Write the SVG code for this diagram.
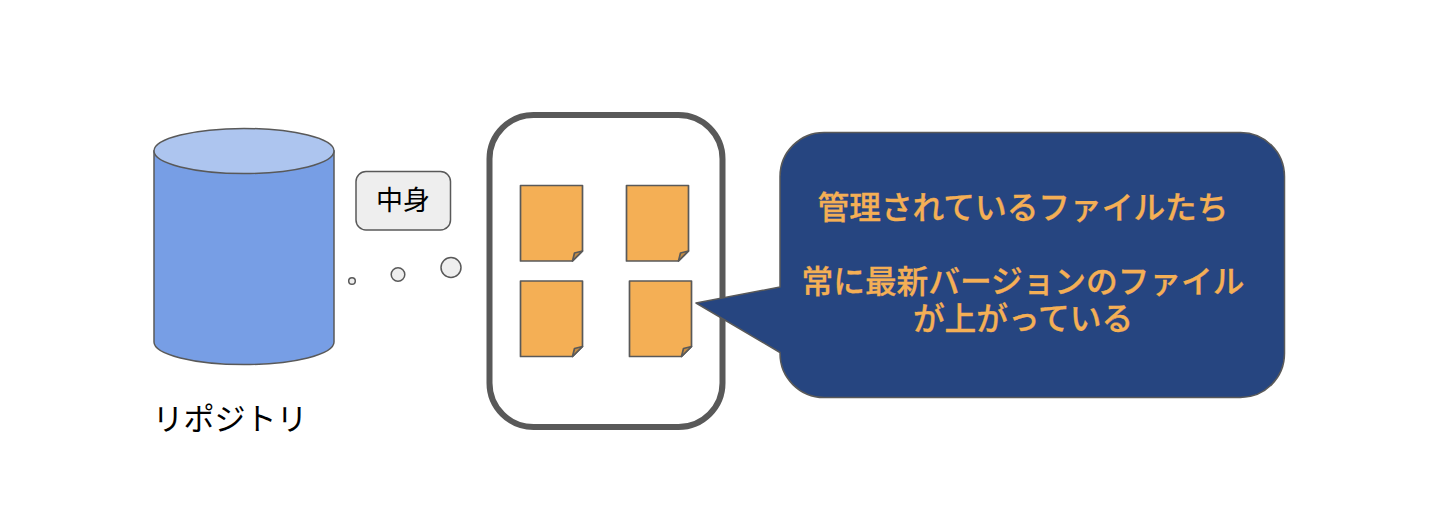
<svg xmlns="http://www.w3.org/2000/svg" width="1436" height="520" viewBox="0 0 1436 520">
<style>
.t{font-family:"Noto Sans CJK JP","Liberation Sans",sans-serif}
.b{font-size:31.700px;font-weight:500;fill:#f4af55;text-anchor:middle;stroke:#f4af55;stroke-width:0.300px}
.doc{fill:#f4af55;stroke:#595959;stroke-width:1.700;stroke-linejoin:round}
.fold{fill:#c48c44;stroke:#595959;stroke-width:1.700;stroke-linejoin:round}
.bub{fill:#eeeeee;stroke:#595959;stroke-width:1.500}
</style>
<defs>
<g id="doc">
<path class="doc" d="M0.500 0.500H62.500V66L52.500 76H0.500Z"/>
<path class="fold" d="M52.500 76L54.500 68L62.500 66Z"/>
</g>
</defs>
<rect width="1436" height="520" fill="#ffffff"/>
<g id="repo">
<path d="M154 151V342A90 22.500 0 0 0 334 342V151Z" fill="#779ee5" stroke="#595959" stroke-width="1.500"/>
<ellipse cx="244" cy="151" rx="90" ry="22.500" fill="#adc5ef" stroke="#595959" stroke-width="1.500"/>
<text class="t" x="230" y="430" font-size="31" text-anchor="middle" fill="#000000">リポジトリ</text>
</g>
<g id="contents-bubble">
<rect class="bub" x="356" y="171.500" width="94.500" height="58.500" rx="10"/>
<text class="t" x="403" y="210" font-size="27" text-anchor="middle" fill="#000000">中身</text>
<circle class="bub" cx="352" cy="281" r="3.300"/>
<circle class="bub" cx="398" cy="274.500" r="6.800"/>
<circle class="bub" cx="451" cy="267.500" r="10"/>
</g>
<g id="container">
<rect x="489.500" y="115" width="233" height="312" rx="44" fill="#ffffff" stroke="#595959" stroke-width="6"/>
</g>
<g id="file-1"><use href="#doc" x="520" y="185"/></g>
<g id="file-2"><use href="#doc" x="626" y="185"/></g>
<g id="file-3"><use href="#doc" x="520" y="280.500"/></g>
<g id="file-4"><use href="#doc" x="629" y="280.500"/></g>
<g id="callout">
<path d="M780 176.500A44 44 0 0 1 824 132.500H1240.500A44 44 0 0 1 1284.500 176.500V353.500A44 44 0 0 1 1240.500 397.500H824A44 44 0 0 1 780 353.500V352.500L696 303L780 287Z" fill="#264580" stroke="#595959" stroke-width="1.500" stroke-linejoin="round"/>
<text class="t b" x="1023" y="219">管理されているファイルたち</text>
<text class="t b" x="1023" y="293">常に最新バージョンのファイル</text>
<text class="t b" x="1023" y="330">が上がっている</text>
</g>
<g id="connectors"/>
</svg>
